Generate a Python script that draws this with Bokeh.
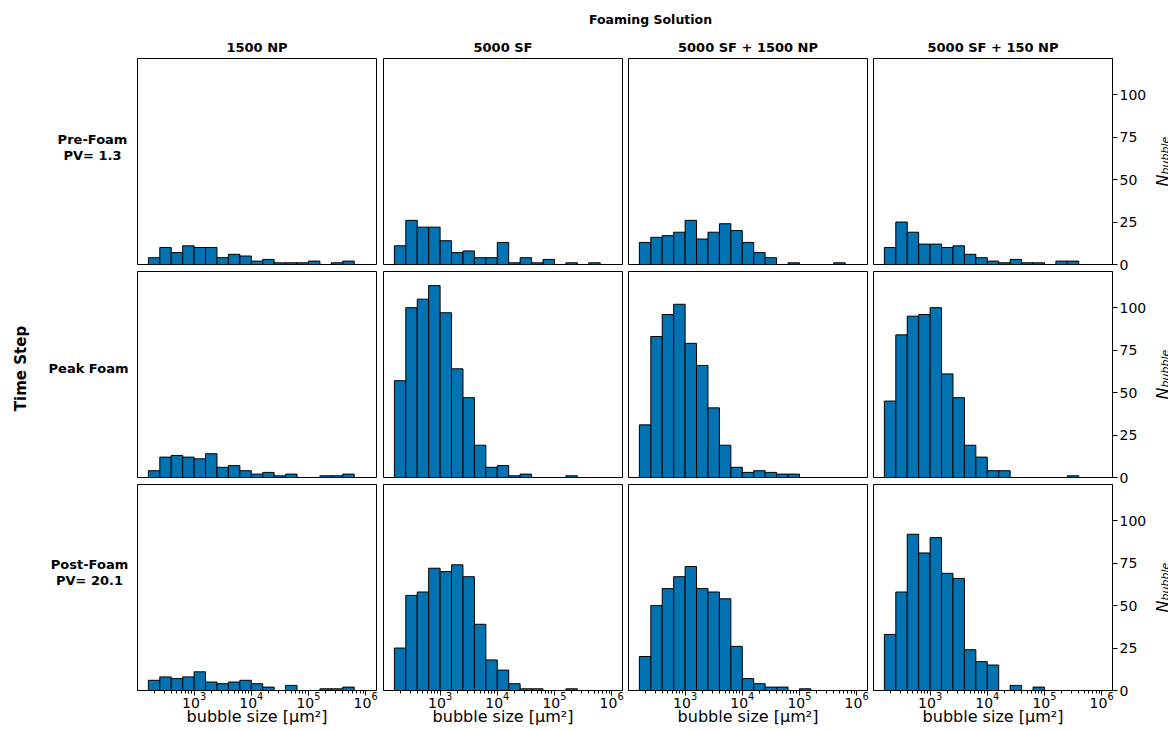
import math
from bokeh.plotting import figure
from bokeh.layouts import row, column
from bokeh.models import Range1d, FixedTicker, LogTickFormatter
from bokeh.embed import file_html
from bokeh.resources import INLINE
from bokeh.core.properties import value

# ---------------- data ----------------
SOLUTIONS = ["1500 NP", "5000 SF", "5000 SF + 1500 NP", "5000 SF + 150 NP"]
TIME_STEPS = [["Pre-Foam", "PV= 1.3"], ["Peak Foam"], ["Post-Foam", "PV= 20.1"]]
SUPER_TITLE = "Foaming Solution"
ROW_TITLE = "Time Step"
X_LABEL = "bubble size [µm²]"

# log10 of the bin edges (19 bins)
BIN_EXP = [2.2, 2.4, 2.6, 2.8, 3.0, 3.2, 3.4, 3.6, 3.8, 4.0,
           4.2, 4.4, 4.6, 4.8, 5.0, 5.2, 5.4, 5.6, 5.8, 6.0]

PRE_1500NP = [4, 10, 7, 11, 10, 10, 4, 6, 5, 2, 3, 1, 1, 1, 2, 0, 1, 2, 0]
PRE_5000SF = [11, 26, 22, 22, 14, 7, 8, 4, 4, 13, 1, 4, 1, 3, 0, 1, 0, 1, 0]
PRE_SF_1500NP = [13, 16, 17, 19, 26, 15, 19, 24, 20, 13, 7, 4, 0, 1, 0, 0, 0, 1, 0]
PRE_SF_150NP = [10, 25, 19, 12, 12, 10, 11, 6, 4, 2, 1, 3, 1, 1, 0, 2, 2, 0, 0]

PEAK_1500NP = [4, 12, 13, 12, 11, 14, 6, 7, 4, 2, 3, 1, 2, 0, 0, 1, 1, 2, 0]
PEAK_5000SF = [57, 100, 105, 113, 97, 64, 47, 19, 6, 7, 1, 2, 0, 0, 0, 1, 0, 0, 0]
PEAK_SF_1500NP = [31, 83, 96, 102, 79, 66, 41, 19, 6, 3, 4, 3, 2, 2, 0, 0, 0, 0, 0]
PEAK_SF_150NP = [45, 84, 95, 96, 100, 61, 47, 19, 12, 4, 4, 0, 0, 0, 0, 0, 1, 0, 0]

POST_1500NP = [6, 8, 7, 8, 11, 5, 4, 5, 6, 4, 2, 0, 3, 0, 0, 1, 1, 2, 0]
POST_5000SF = [25, 56, 58, 72, 70, 74, 67, 39, 18, 12, 4, 1, 1, 0, 0, 1, 0, 0, 0]
POST_SF_1500NP = [20, 50, 60, 67, 73, 60, 58, 54, 26, 7, 4, 2, 2, 0, 1, 0, 0, 0, 0]
POST_SF_150NP = [33, 58, 92, 81, 90, 69, 66, 24, 17, 15, 0, 3, 0, 2, 0, 0, 0, 0, 0]

COUNTS = [
    [PRE_1500NP, PRE_5000SF, PRE_SF_1500NP, PRE_SF_150NP],
    [PEAK_1500NP, PEAK_5000SF, PEAK_SF_1500NP, PEAK_SF_150NP],
    [POST_1500NP, POST_5000SF, POST_SF_1500NP, POST_SF_150NP],
]

X_TICKS = [1e3, 1e4, 1e5, 1e6]
Y_TICKS = [0, 25, 50, 75, 100]

# ---------------- styling / layout ----------------
FONT = "DejaVu Sans"
BAR_COLOR = "#0173b2"
FRAME_W, FRAME_H = 239, 206
X_MIN_EXP, X_MAX_EXP = 2.01, 6.19
Y_MAX = 121.3

EDGES = [10 ** e for e in BIN_EXP]
MINOR = [m * 10 ** e for e in range(2, 6) for m in range(2, 10)]

TOTAL_W = 1168
HEADER_H = 54
LEFT_W = 134
RIGHT_W = 22
COL4_RIGHT = 34
BOTTOM_B = 41
# (left border, right border) per column ; (top border, bottom border) per row
COL_B = [(3, 4), (3, 3), (3, 3), (3, COL4_RIGHT)]
ROW_B = [(4, 6), (1, 6), (1, BOTTOM_B)]
GRID_H = sum(t + FRAME_H + b for t, b in ROW_B)


def blank(width, height, x0, y0):
    """text-only figure whose data coordinates are page pixels (y negated)."""
    p = figure(width=width, height=height,
               x_range=Range1d(x0, x0 + width), y_range=Range1d(-(y0 + height), -y0),
               x_axis_location=None, y_axis_location=None,
               toolbar_location=None, output_backend="svg",
               min_border=0, min_border_left=0, min_border_right=0,
               min_border_top=0, min_border_bottom=0)
    p.outline_line_color = None
    p.grid.visible = False
    return p


# header
header = blank(TOTAL_W, HEADER_H, 0, 0)
header.text(x=[650], y=[-19], text=[SUPER_TITLE], text_font=value(FONT),
            text_font_style="bold", text_font_size="12.5px",
            text_align="center", text_baseline="middle", text_color="black")
col_centers = [137 + FRAME_W / 2, 383 + FRAME_W / 2, 628 + FRAME_W / 2, 873 + FRAME_W / 2]
header.text(x=col_centers, y=[-47] * 4, text=SOLUTIONS, text_font=value(FONT),
            text_font_style="bold", text_font_size="13px",
            text_align="center", text_baseline="middle", text_color="black")

# left strip
left = blank(LEFT_W, GRID_H, 0, HEADER_H)
left.text(x=[20], y=[-368], text=[ROW_TITLE], angle=math.pi / 2,
          text_font=value(FONT), text_font_style="bold", text_font_size="15px",
          text_align="center", text_baseline="middle", text_color="black")
row_label_pos = [(92, [139, 155]), (88, [368]), (89, [564, 580])]
for (cx, ys), lines in zip(row_label_pos, TIME_STEPS):
    left.text(x=[cx] * len(lines), y=[-y for y in ys], text=lines,
              text_font=value(FONT), text_font_style="bold", text_font_size="13px",
              text_align="center", text_baseline="middle", text_color="black")

# right strip (N_bubble labels)
right = blank(RIGHT_W, GRID_H, TOTAL_W - RIGHT_W, HEADER_H)
row_centers = [161, 374, 587]
right.text(x=[1159] * 3, y=[-(c + 25) for c in row_centers], text=["N"] * 3,
           angle=math.pi / 2, text_font=value(FONT), text_font_style="italic",
           text_font_size="16px", text_align="left", text_baseline="alphabetic",
           text_color="black")
right.text(x=[1162] * 3, y=[-(c + 13) for c in row_centers], text=["bubble"] * 3,
           angle=math.pi / 2, text_font=value(FONT), text_font_style="italic",
           text_font_size="11px", text_align="left", text_baseline="alphabetic",
           text_color="black")


def make_panel(r, c):
    counts = COUNTS[r][c]
    p = figure(frame_width=FRAME_W, frame_height=FRAME_H, x_axis_type="log",
               x_range=Range1d(10 ** X_MIN_EXP, 10 ** X_MAX_EXP),
               y_range=Range1d(0, Y_MAX),
               x_axis_location="below" if r == 2 else None,
               y_axis_location="right" if c == 3 else None,
               toolbar_location=None, output_backend="svg",
               min_border_left=COL_B[c][0], min_border_right=COL_B[c][1],
               min_border_top=ROW_B[r][0], min_border_bottom=ROW_B[r][1])
    p.grid.visible = False
    p.outline_line_color = "black"
    p.outline_line_width = 1
    p.quad(left=EDGES[:-1], right=EDGES[1:], bottom=0, top=counts,
           fill_color=BAR_COLOR, line_color="black", line_width=1)
    if r == 2:
        ax = p.xaxis[0]
        ax.ticker = FixedTicker(ticks=X_TICKS, minor_ticks=MINOR)
        ax.formatter = LogTickFormatter()
        ax.axis_label = X_LABEL
        ax.axis_label_text_font = FONT
        ax.axis_label_text_font_style = "normal"
        ax.axis_label_text_font_size = "16px"
        ax.axis_label_text_color = "black"
        ax.axis_label_standoff = -4
        ax.major_label_text_font = FONT
        ax.major_label_text_font_size = "14px"
        ax.major_label_text_color = "black"
        ax.major_label_standoff = -4
        ax.major_tick_in = 0
        ax.major_tick_out = 5
        ax.minor_tick_in = 0
        ax.minor_tick_out = 3
        ax.axis_line_color = "black"
        ax.major_tick_line_color = "black"
        ax.minor_tick_line_color = "black"
    if c == 3:
        ay = p.yaxis[0]
        ay.ticker = FixedTicker(ticks=Y_TICKS)
        ay.major_label_text_font = FONT
        ay.major_label_text_font_size = "14px"
        ay.major_label_text_color = "black"
        ay.major_label_standoff = 2
        ay.major_tick_in = 0
        ay.major_tick_out = 5
        ay.minor_tick_line_color = None
        ay.axis_line_color = "black"
        ay.major_tick_line_color = "black"
    return p


grid_rows = [row(*[make_panel(r, c) for c in range(4)]) for r in range(3)]
grid = column(*grid_rows)

layout = column(header, row(left, grid, right))

open("out.html", "w").write(file_html(layout, INLINE, title="Bubble size histograms"))
